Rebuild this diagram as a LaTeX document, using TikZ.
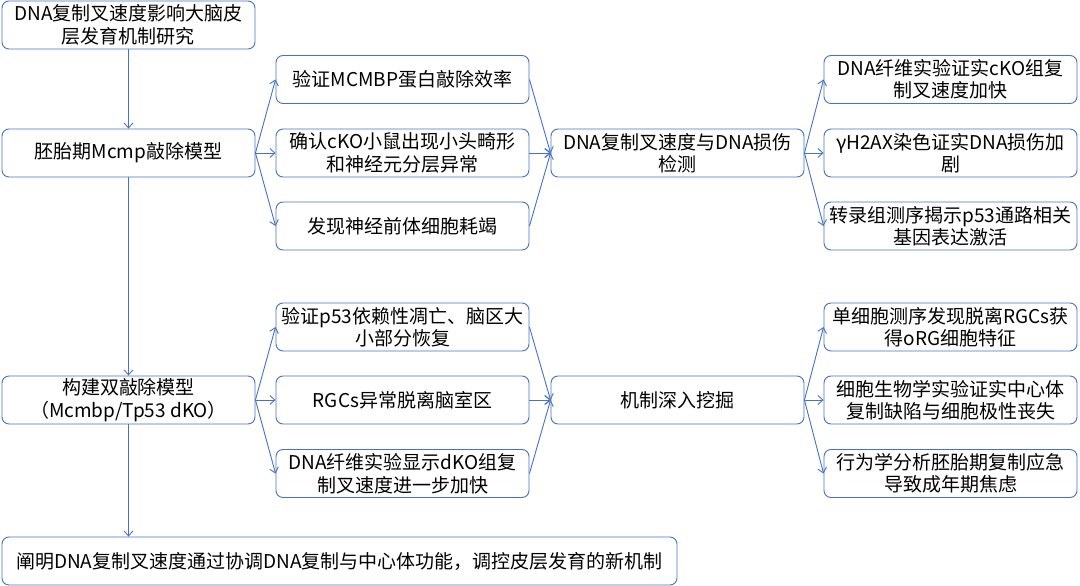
\documentclass[tikz,border=0pt]{standalone}
\usepackage{fontspec}
\setmainfont{Noto Sans CJK SC}
\usetikzlibrary{arrows.meta}
\definecolor{lineblue}{RGB}{68,114,196}
\begin{document}
\begin{tikzpicture}[x=1pt,y=-1pt,
  box/.style={draw=lineblue,line width=0.9pt,rounded corners=7pt,fill=white,
    minimum width=253pt,minimum height=48pt,inner sep=1pt,align=center,
    font=\fontsize{19}{22.5}\selectfont,text=black},
  conn/.style={draw=lineblue,line width=0.9pt,-{Straight Barb[length=5pt,width=9pt]}}]
\useasboundingbox (0,0) rectangle (1080,586);
% column 1
\node[box] (A) at (128.5,25) {DNA复制叉速度影响大脑皮\\层发育机制研究};
\node[box] (B) at (128.5,153) {胚胎期Mcmp敲除模型};
\node[box] (C) at (128.5,400) {构建双敲除模型\\（Mcmbp/Tp53 dKO）};
\node[box,minimum width=675pt] (D) at (339.5,561) {阐明DNA复制叉速度通过协调DNA复制与中心体功能，调控皮层发育的新机制};
% column 2 upper
\node[box] (m1) at (402.5,79.5) {验证MCMBP蛋白敲除效率};
\node[box] (m2) at (402.5,153) {确认cKO小鼠出现小头畸形\\和神经元分层异常};
\node[box] (m3) at (402.5,226) {发现神经前体细胞耗竭};
% column 2 lower
\node[box] (n1) at (402.5,327) {验证p53依赖性凋亡、脑区大\\小部分恢复};
\node[box] (n2) at (402.5,400) {RGCs异常脱离脑室区};
\node[box] (n3) at (402.5,473.5) {DNA纤维实验显示dKO组复\\制叉速度进一步加快};
% column 3
\node[box] (E) at (677.5,153) {DNA复制叉速度与DNA损伤\\检测};
\node[box] (F) at (677.5,400) {机制深入挖掘};
% column 4 upper
\node[box] (r1) at (950.5,79.5) {DNA纤维实验证实cKO组复\\制叉速度加快};
\node[box] (r2) at (950.5,153) {γH2AX染色证实DNA损伤加\\剧};
\node[box] (r3) at (950.5,226) {转录组测序揭示p53通路相关\\基因表达激活};
% column 4 lower
\node[box] (s1) at (950.5,327) {单细胞测序发现脱离RGCs获\\得oRG细胞特征};
\node[box] (s2) at (950.5,400) {细胞生物学实验证实中心体\\复制缺陷与细胞极性丧失};
\node[box] (s3) at (950.5,473.5) {行为学分析胚胎期复制应急\\导致成年期焦虑};
% connectors
\draw[conn] (A.south) -- (B.north);
\draw[conn] (B.south) -- (C.north);
\draw[conn] (C.south) -- (C.south |- D.north);
\foreach \t in {m1,m2,m3} {\draw[conn] (B.east) -- (\t.west); \draw[conn] (\t.east) -- (E.west);}
\foreach \t in {r1,r2,r3} {\draw[conn] (E.east) -- (\t.west);}
\foreach \t in {n1,n2,n3} {\draw[conn] (C.east) -- (\t.west); \draw[conn] (\t.east) -- (F.west);}
\foreach \t in {s1,s2,s3} {\draw[conn] (F.east) -- (\t.west);}
\end{tikzpicture}
\end{document}
